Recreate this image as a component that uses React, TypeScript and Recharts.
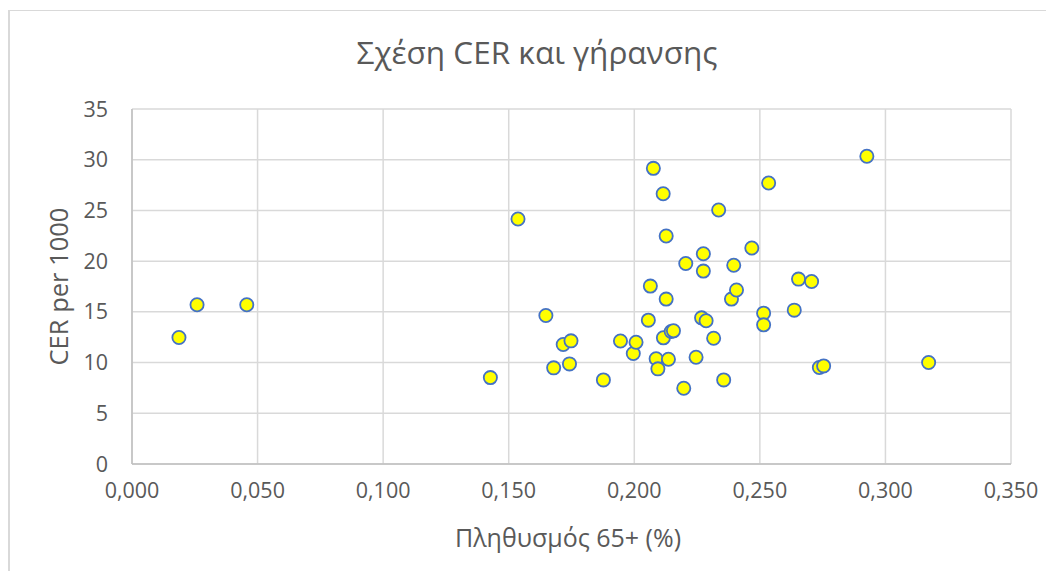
import React from "react";
import { ScatterChart, Scatter, XAxis, YAxis, CartesianGrid } from "recharts";

// Share of population aged 65+ (fraction) for each area
const elderlyShare: number[] = [
  0.0187, 0.0259, 0.0457, 0.1427, 0.1537, 0.1648, 0.1679, 0.1717, 0.1742, 0.1748,
  0.1877, 0.1945, 0.1996, 0.2007, 0.2056, 0.2064, 0.2076, 0.2087, 0.2094, 0.2115,
  0.2116, 0.2127, 0.2127, 0.2136, 0.2147, 0.2156, 0.2197, 0.2205, 0.2246, 0.2268,
  0.2275, 0.2275, 0.2286, 0.2316, 0.2336, 0.2356, 0.2387, 0.2396, 0.2407, 0.2468,
  0.2515, 0.2515, 0.2535, 0.2637, 0.2654, 0.2706, 0.2737, 0.2754, 0.2926, 0.3172,
];

// CER per 1000 inhabitants, same order as above
const cerPer1000: number[] = [
  12.47, 15.7, 15.7, 8.52, 24.15, 14.64, 9.48, 11.78, 9.87, 12.14,
  8.29, 12.12, 10.89, 12.01, 14.18, 17.54, 29.15, 10.37, 9.38, 26.65,
  12.44, 22.48, 16.26, 10.33, 13.06, 13.13, 7.47, 19.77, 10.53, 14.41,
  20.73, 19.02, 14.12, 12.4, 25.04, 8.29, 16.26, 19.6, 17.15, 21.29,
  14.87, 13.72, 27.71, 15.17, 18.23, 18.0, 9.51, 9.67, 30.34, 10.0,
];

const xTicks: number[] = [0, 0.05, 0.1, 0.15, 0.2, 0.25, 0.3, 0.35];
const yTicks: number[] = [0, 5, 10, 15, 20, 25, 30, 35];

const chartTitle = "Σχέση CER και γήρανσης";
const xTitle = "Πληθυσμός 65+ (%)";
const yTitle = "CER per 1000";

const points = elderlyShare.map((x, i) => ({ x, y: cerPer1000[i] }));

const FONT = "'Open Sans', 'Noto Sans', sans-serif";
const TEXT = "#595959";
const W = 1036;
const H = 560;

const Marker = (props: any) => {
  const { cx, cy } = props;
  if (cx == null || cy == null) return null;
  return (
    <circle cx={cx} cy={cy} r={6.6} fill="#FFFF00" stroke="#4472C4" strokeWidth={1.8} />
  );
};

export default function App() {
  return (
    <div
      style={{
        position: "relative",
        width: W,
        height: H,
        marginTop: 2,
        borderTop: "1px solid #d9d9d9",
        borderLeft: "2px solid #d9d9d9",
        background: "#fff",
      }}
    >
      <ScatterChart
        width={W}
        height={H}
        margin={{ top: 98, right: 35, bottom: 67, left: 42 }}
      >
        <CartesianGrid stroke="#d9d9d9" strokeWidth={1.5} />
        <XAxis
          type="number"
          dataKey="x"
          domain={[0, 0.35]}
          ticks={xTicks}
          interval={0}
          height={40}
          tickLine={false}
          tickSize={0}
          tickMargin={19}
          axisLine={{ stroke: "#bfbfbf", strokeWidth: 1.5 }}
          tickFormatter={(v: number) => v.toFixed(3).replace(".", ",")}
          tick={{ fill: TEXT, fontSize: 21.5, fontFamily: FONT }}
        />
        <YAxis
          type="number"
          dataKey="y"
          domain={[0, 35]}
          ticks={yTicks}
          interval={0}
          width={80}
          tickLine={false}
          tickSize={0}
          tickMargin={24}
          axisLine={{ stroke: "#bfbfbf", strokeWidth: 1.5 }}
          tick={{ fill: TEXT, fontSize: 21.5, fontFamily: FONT }}
        />
        <Scatter data={points} shape={Marker} isAnimationActive={false} />
      </ScatterChart>
      <svg
        width={W}
        height={H}
        style={{ position: "absolute", left: 0, top: 0, pointerEvents: "none" }}
      >
        <text
          x={527}
          y={53}
          textAnchor="middle"
          fill={TEXT}
          fontSize={31.5}
          fontFamily={FONT}
        >
          {chartTitle}
        </text>
        <text
          transform="translate(58,275.5) rotate(-90)"
          textAnchor="middle"
          fill={TEXT}
          fontSize={25.5}
          fontFamily={FONT}
        >
          {yTitle}
        </text>
        <text
          x={558}
          y={536}
          textAnchor="middle"
          fill={TEXT}
          fontSize={25}
          fontFamily={FONT}
        >
          {xTitle}
        </text>
      </svg>
    </div>
  );
}
